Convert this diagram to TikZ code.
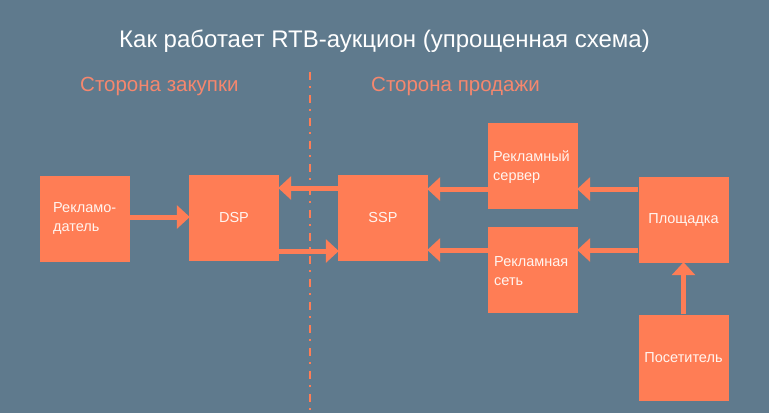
\documentclass[tikz,border=0pt]{standalone}
\usepackage{fontspec}
\setmainfont{Liberation Sans}
\usetikzlibrary{arrows.meta}
\definecolor{bg}{RGB}{95,122,141}
\definecolor{boxc}{RGB}{255,125,85}
\definecolor{head}{RGB}{245,135,110}
\definecolor{txt}{RGB}{255,245,240}
\tikzset{
  blk/.style={fill=boxc, draw=none, minimum width=90pt, minimum height=86pt, inner sep=0pt, text=txt, font=\fontsize{14.5}{19}\selectfont},
  lbl/.style={anchor=west, text=txt, font=\fontsize{14.5}{19}\selectfont, align=left, inner sep=0pt},
  conn/.style={draw=boxc, line width=5pt, -{Triangle[length=13pt,width=23pt]}, shorten >=-1pt},
}
\begin{document}
\begin{tikzpicture}[x=1pt,y=-1pt]
\fill[bg] (0,0) rectangle (769,413);
\useasboundingbox (0,0) rectangle (769,413);
\node[text=white, font=\fontsize{24}{28}\selectfont] (title) at (384.5,41) {Как работает RTB-аукцион (упрощенная схема)};
\node[text=head, font=\fontsize{20.5}{24}\selectfont, anchor=west, inner sep=0pt] (buy) at (80,86) {Сторона закупки};
\node[text=head, font=\fontsize{20.5}{24}\selectfont, anchor=west, inner sep=0pt] (sell) at (371,86) {Сторона продажи};
\coordinate (dtop) at (310,72);
\coordinate (dbot) at (310,413);
\draw[boxc, line width=2.5pt, dash pattern=on 8pt off 6pt on 1.5pt off 7.5pt] (dtop) -- (dbot);
\node[blk] (adv) at (84.5,218.5) {};
\node[lbl] at (53,218) {Рекламо-\\датель};
\node[blk] (dsp) at (234,217.5) {DSP};
\node[blk] (ssp) at (383,217.5) {SSP};
\node[blk] (srv) at (533,166) {};
\node[lbl] at (493,167) {Рекламный\\сервер};
\node[blk] (net) at (533,270) {};
\node[lbl] at (494,271) {Рекламная\\сеть};
\node[blk] (pl) at (683.5,220) {Площадка};
\node[blk] (vis) at (683.5,357.5) {Посетитель};
\draw[conn] (adv.east |- 0,217) -- (dsp.west |- 0,217);
\draw[conn] (ssp.west |- 0,188) -- (dsp.east |- 0,188);
\draw[conn] (dsp.east |- 0,251) -- (ssp.west |- 0,251);
\draw[conn] (srv.west |- 0,189) -- (ssp.east |- 0,189);
\draw[conn] (net.west |- 0,250) -- (ssp.east |- 0,250);
\draw[conn] (pl.west |- 0,189) -- (srv.east |- 0,189);
\draw[conn] (pl.west |- 0,250) -- (net.east |- 0,250);
\draw[conn] (vis.north) -- (pl.south);
\end{tikzpicture}
\end{document}
